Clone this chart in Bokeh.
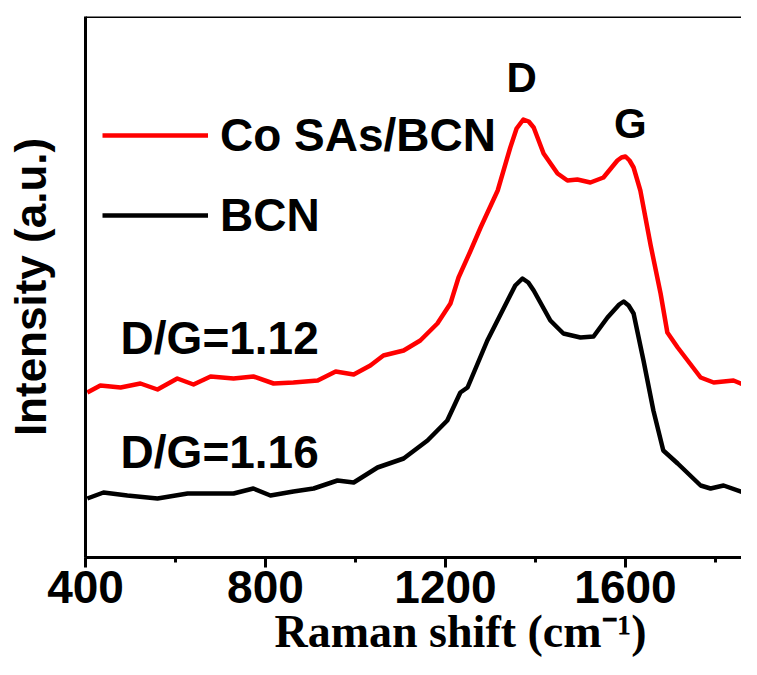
from bokeh.plotting import figure
from bokeh.models import (Range1d, SingleIntervalTicker, FixedTicker, Label, Span,
                          Legend, LegendItem, Title)
from bokeh.embed import file_html
from bokeh.resources import INLINE

# ---- data (Raman shift in cm^-1, intensity in arbitrary units) ----
cosas_shift = [404, 433, 478, 522, 560, 604, 640, 678, 729, 773, 818, 862, 916, 956,
               996, 1033, 1062, 1107, 1144, 1182, 1211, 1229, 1255, 1278, 1316, 1344,
               1358, 1373, 1385, 1396, 1418, 1449, 1471, 1493, 1522, 1551, 1582, 1591,
               1600, 1609, 1618, 1633, 1656, 1678, 1693, 1716, 1767, 1796, 1840, 1878,
               1893]
cosas_int = [172, 179, 177, 181, 175, 186, 180, 188, 186, 188, 181, 182, 184, 193,
             190, 199, 209, 214, 224, 241, 261, 287, 313, 337, 374, 417,
             436, 445, 443, 437, 411, 391, 384, 385, 382, 387, 404, 407,
             408, 404, 397, 374, 319, 271, 232, 217, 187, 182, 184, 177,
             171]

bcn_shift = [404, 440, 493, 560, 627, 671, 729, 773, 811, 862, 907, 960, 996, 1049,
             1107, 1160, 1204, 1233, 1249, 1293, 1338, 1355, 1371, 1384, 1396, 1433,
             1462, 1500, 1529, 1560, 1586, 1596, 1607, 1618, 1640, 1662, 1684, 1716,
             1767, 1789, 1818, 1862, 1893]
bcn_int = [66, 72, 69, 66, 71, 71, 71, 76, 69, 73, 76, 84, 82, 97,
           106, 124, 144, 172, 177, 224, 264, 279, 286, 282, 274, 244,
           231, 227, 228, 247, 260, 263, 259, 251, 204, 154, 114, 101,
           79, 76, 79, 72, 69]

series_names = ["Co SAs/BCN", "BCN"]
series_colors = ["#ff0000", "#000000"]

peak_labels = ["D", "G"]
peak_x = [1369, 1611]
peak_y = [487, 441]

ratio_labels = ["D/G=1.12", "D/G=1.16"]
ratio_x = [478, 478]
ratio_y = [227, 113]

x_title = "Raman shift (cm\u207b\u00b9)"
y_title = "Intensity (a.u.)"

SANS = "Liberation Sans"
SERIF = "Liberation Serif"

p = figure(width=741, height=659, output_backend="svg", toolbar_location=None,
           x_range=Range1d(400, 1857.8), y_range=Range1d(7, 548),
           min_border_left=85, min_border_right=0, min_border_top=16,
           min_border_bottom=102)
p.outline_line_color = None
p.grid.visible = False
p.background_fill_color = "white"
p.border_fill_color = "white"

r1 = p.line(cosas_shift, cosas_int, line_color=series_colors[0], line_width=4.5,
            line_join="round")
r2 = p.line(bcn_shift, bcn_int, line_color=series_colors[1], line_width=4.5,
            line_join="round")

# x axis
xa = p.xaxis[0]
xa.ticker = SingleIntervalTicker(interval=400, num_minor_ticks=2)
xa.axis_line_width = 3
xa.major_tick_line_width = 3
xa.minor_tick_line_width = 3
xa.major_tick_in = 0
xa.major_tick_out = 10
xa.minor_tick_in = 0
xa.minor_tick_out = 5
xa.major_label_text_font = SANS
xa.major_label_text_font_style = "bold"
xa.major_label_text_font_size = "46px"
xa.major_label_text_color = "black"
xa.major_label_standoff = 3

# y axis (no ticks)
ya = p.yaxis[0]
ya.ticker = FixedTicker(ticks=[])
ya.axis_line_width = 3
ya.major_tick_out = 0
ya.minor_tick_out = 0
ya.major_tick_in = 0
ya.minor_tick_in = 0
ya.axis_label = y_title
ya.axis_label_standoff = 31
ya.axis_label_text_font = SANS
ya.axis_label_text_font_style = "bold"
ya.axis_label_text_font_size = "44px"
ya.axis_label_text_color = "black"

# top border
p.add_layout(Span(location=548, dimension="width", line_color="black", line_width=3))

# x-axis title
p.add_layout(Title(text=x_title, align="left", offset=189, standoff=-4,
                   text_font=SERIF, text_font_style="bold", text_font_size="46px",
                   text_color="black"), "below")

# peak labels
for t, xx, yy in zip(peak_labels, peak_x, peak_y):
    p.add_layout(Label(x=xx, y=yy, text=t, text_font=SANS, text_font_style="bold",
                       text_font_size="42px", text_align="center",
                       text_baseline="middle", text_color="black"))
for t, xx, yy in zip(ratio_labels, ratio_x, ratio_y):
    p.add_layout(Label(x=xx, y=yy, text=t, text_font=SANS, text_font_style="bold",
                       text_font_size="46px", text_align="left",
                       text_baseline="middle", text_color="black"))

legend = Legend(items=[LegendItem(label=series_names[0], renderers=[r1]),
                       LegendItem(label=series_names[1], renderers=[r2])],
                location=(17, 314), padding=0, margin=0, spacing=24,
                glyph_width=106, glyph_height=56, label_standoff=12,
                label_text_font=SANS, label_text_font_style="bold",
                label_text_font_size="46px", label_text_color="black",
                border_line_color=None, background_fill_alpha=0)
p.add_layout(legend)

open("out.html", "w").write(file_html(p, INLINE))
